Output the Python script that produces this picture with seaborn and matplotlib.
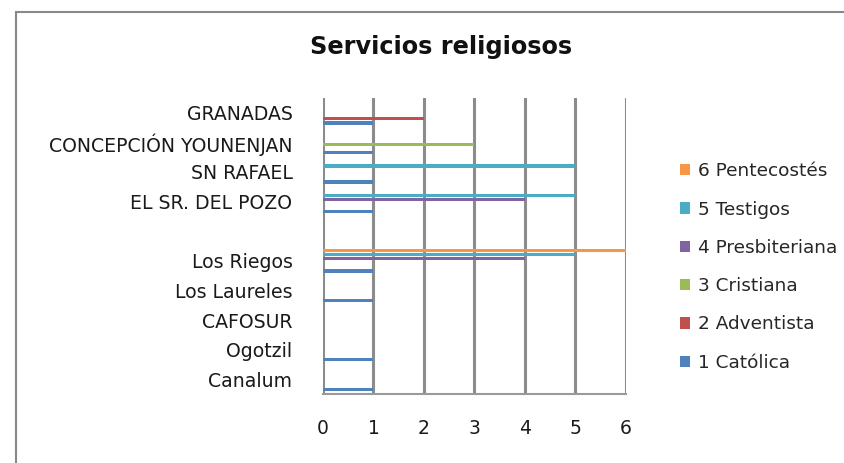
import pandas as pd
import matplotlib.pyplot as plt
import seaborn as sns
from matplotlib.patches import Rectangle

# Categories, listed top to bottom as in the chart (one empty slot)
comunidades = ["GRANADAS", "CONCEPCIÓN YOUNENJAN", "SN RAFAEL", "EL SR. DEL POZO", "",
               "Los Riegos", "Los Laureles", "CAFOSUR", "Ogotzil", "Canalum"]

catolica = [1, 1, 1, 1, 0, 1, 1, 0, 1, 1]
adventista = [2, 0, 0, 0, 0, 0, 0, 0, 0, 0]
cristiana = [0, 3, 0, 0, 0, 0, 0, 0, 0, 0]
presbiteriana = [0, 0, 0, 4, 0, 4, 0, 0, 0, 0]
testigos = [0, 0, 5, 5, 0, 5, 0, 0, 0, 0]
pentecostes = [0, 0, 0, 0, 0, 6, 0, 0, 0, 0]

series_names = ["6 Pentecostés", "5 Testigos", "4 Presbiteriana",
                "3 Cristiana", "2 Adventista", "1 Católica"]
series_values = [pentecostes, testigos, presbiteriana, cristiana, adventista, catolica]
colors = ["#F79646", "#4BACC6", "#8064A2", "#9BBB59", "#C0504D", "#4F81BD"]

# long-form table for seaborn
rows = []
for name, vals in zip(series_names, series_values):
    for com, v in zip(comunidades, vals):
        rows.append({"comunidad": com, "religion": name, "valor": v})
df = pd.DataFrame(rows)

sns.set_theme(style="white")
plt.rcParams["font.family"] = ["DejaVu Sans"]

fig = plt.figure(figsize=(8.45, 4.63), dpi=100)
ax = fig.add_axes([323 / 845, 1 - 394 / 463, 303 / 845, 296 / 463])

sns.barplot(data=df, y="comunidad", x="valor", hue="religion",
            order=comunidades, hue_order=series_names, palette=colors,
            orient="h", width=0.82, saturation=1, ax=ax, legend=True)

# thin Excel-like bars
for p in ax.patches:
    h = p.get_height()
    p.set_y(p.get_y() + h * 0.1)
    p.set_height(h * 0.8)
    p.set_edgecolor("none")

ax.set_xlim(0, 6)
ax.set_ylim(9.5, -0.5)
ax.set_xticks(range(7))
ax.set_xlabel("")
ax.set_ylabel("")
ax.grid(axis="x", color="#8c8c8c", linewidth=2.2)
ax.set_axisbelow(True)
for side in ["top", "right", "left"]:
    ax.spines[side].set_visible(False)
ax.spines["bottom"].set_color("#9a9a9a")
ax.spines["bottom"].set_linewidth(1.5)
ax.tick_params(axis="x", length=0, pad=18, labelsize=13.5, colors="#1a1a1a")
ax.tick_params(axis="y", length=0, pad=22, labelsize=13.6, colors="#1a1a1a")

fig.text(441 / 845, 1 - 47 / 463, "Servicios religiosos", ha="center", va="center",
         fontsize=17.3, fontweight="bold", color="#111111")

handles, labels = ax.get_legend_handles_labels()
ax.legend(handles, labels, loc="center left", bbox_to_anchor=(663 / 845, 1 - 267 / 463),
          bbox_transform=fig.transFigure, frameon=False, fontsize=13.3,
          handlelength=0.55, handleheight=0.55, handletextpad=0.45, labelspacing=1.1)

# outer chart border (cropped on right and bottom)
fig.patches.append(Rectangle((16 / 845, -0.2), 1.2, 1.2 - 12 / 463,
                             transform=fig.transFigure, fill=False,
                             edgecolor="#888888", linewidth=1.5))

fig.savefig("out.png", dpi=100)
